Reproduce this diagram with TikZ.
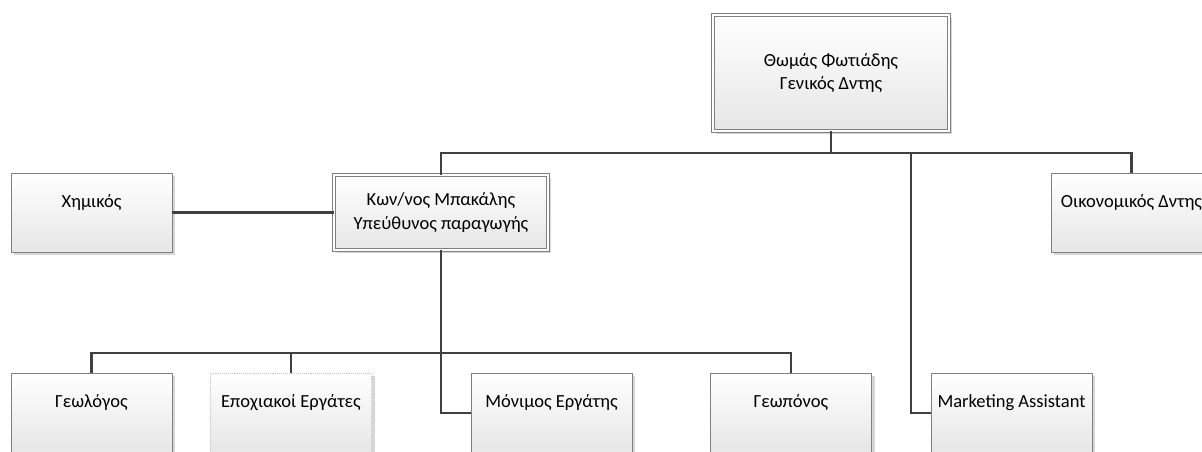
\documentclass[tikz,border=0pt]{standalone}
\usepackage{fontspec}
\setmainfont{Carlito}
\usetikzlibrary{shadows}
\definecolor{linegray}{HTML}{404040}
\definecolor{edgegray}{HTML}{808080}
\definecolor{shadegray}{HTML}{E6E6E6}
\definecolor{shadowgray}{HTML}{D6D6D6}
\begin{document}
\begin{tikzpicture}[x=1pt, y=-1pt,
        post/.style={draw=edgegray, line width=0.9pt, top color=white, bottom color=shadegray,
            minimum width=161, minimum height=79, inner sep=0pt, align=center,
            font=\fontsize{18.5}{23.5}\selectfont,
            drop shadow={shadow xshift=3pt, shadow yshift=-3pt, fill=shadowgray, opacity=1}},
        head/.style={post, double=white, double distance=2.5pt},
        single/.style={text height=14pt, text depth=25pt},
        link/.style={draw=linegray, line width=2.4pt}]
        \useasboundingbox (0,0) rectangle (1202,452);
        \clip (0,0) rectangle (1202,452);
        \fill[white] (0,0) rectangle (1202,452);

        % top row
        \node[head, minimum width=236, minimum height=116] (ceo) at (831,73) {Θωμάς Φωτιάδης\\Γενικός Δντης};
        \node[post, single] (chem) at (91.5,212.5) {Χημικός};
        \node[head, minimum width=214, minimum height=75] (prod) at (441,212.5) {Κων/νος Μπακάλης\\Υπεύθυνος παραγωγής};
        \node[post, single] (fin) at (1131.5,212.5) {Οικονομικός Δντης};

        % bottom row
        \node[post, single, minimum height=80] (geo) at (91.5,413) {Γεωλόγος};
        \node[post, single, minimum height=80, draw=gray!45, densely dotted] (seas) at (291,413) {Εποχιακοί Εργάτες};
        \node[post, single, minimum height=80] (perm) at (551.5,413) {Μόνιμος Εργάτης};
        \node[post, single, minimum height=80] (agro) at (791,413) {Γεωπόνος};
        \node[post, single, minimum height=80] (mkt) at (1011.5,413) {Marketing Assistant};

        \coordinate (topbus) at (831,153);
        \coordinate (mktturn) at (911,153);
        \coordinate (lowbus) at (441,353);

        \draw[link] (ceo.south) -- (topbus) -| (prod.north);
        \draw[link] (topbus) -| (fin.north);
        \draw[link] (topbus) -- (mktturn) |- (mkt.west);
        \draw[link] (chem.east) -- (prod.west);
        \draw[link] (prod.south) -- (lowbus) -| (geo.north);
        \draw[link] (lowbus) -| (seas.north);
        \draw[link] (lowbus) -| (agro.north);
        \draw[link] (prod.south) |- (perm.west);
    \end{tikzpicture}
\end{document}
